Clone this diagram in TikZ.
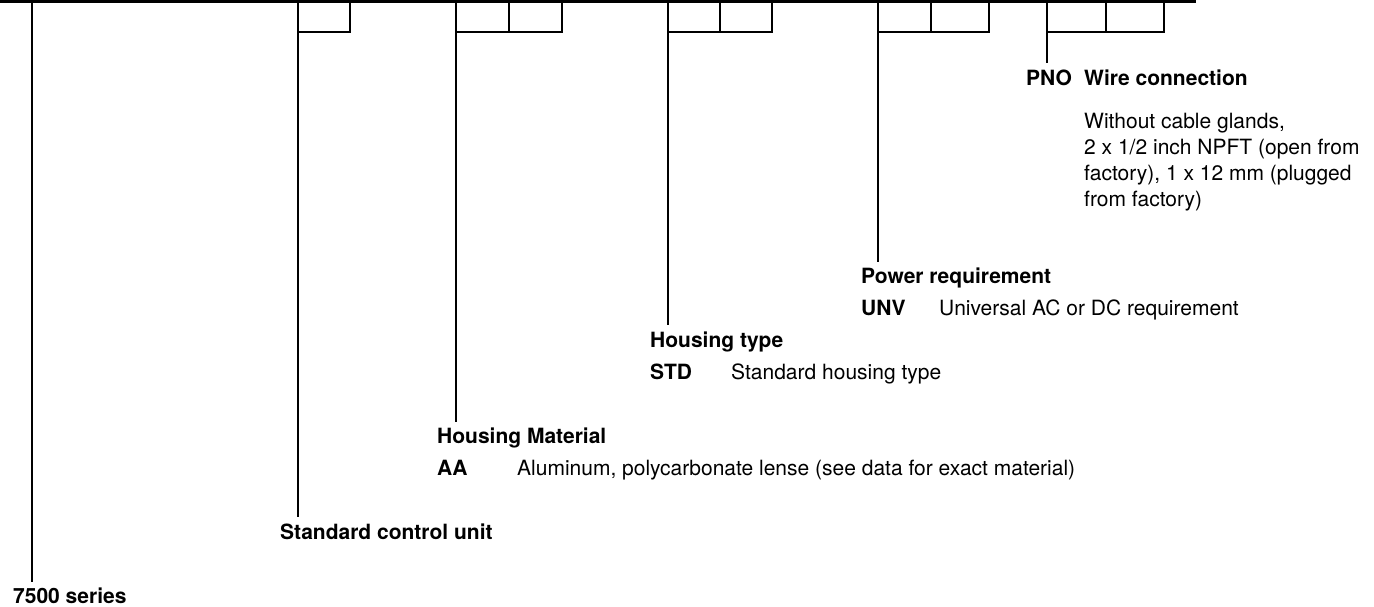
\documentclass[tikz,border=0pt]{standalone}
\usepackage{fontspec}
\setmainfont{TeX Gyre Heros}
\begin{document}
\begin{tikzpicture}[x=1pt,y=-1pt,
  ln/.style={line width=2pt},
  topln/.style={line width=3.2pt},
  head/.style={anchor=base west, inner sep=0pt, font=\fontsize{21}{26}\selectfont\bfseries},
  txt/.style={anchor=base west, inner sep=0pt, font=\fontsize{21}{26}\selectfont},
  para/.style={anchor=north west, inner sep=0pt, align=left, font=\fontsize{21}{26}\selectfont},
]
\useasboundingbox (0,0) rectangle (1374,607);
% top bar
\coordinate (L0) at (0,1.6);
\coordinate (R0) at (1196,1.6);
\draw[topln] (L0) -- (R0);

% code boxes
\draw[ln] (298,1.5) -- (298,32) -- (350,32) -- (350,1.5);
\draw[ln] (456,1.5) -- (456,32) -- (562,32) -- (562,1.5) (509,1.5) -- (509,32);
\draw[ln] (668,1.5) -- (668,32) -- (772,32) -- (772,1.5) (720,1.5) -- (720,32);
\draw[ln] (878,1.5) -- (878,32) -- (989,32) -- (989,1.5) (931,1.5) -- (931,32);
\draw[ln] (1047,1.5) -- (1047,32) -- (1164,32) -- (1164,1.5) (1106,1.5) -- (1106,32);

% leader coordinates
\coordinate (t1) at (32,1.5);   \coordinate (e1) at (32,582);
\coordinate (t2) at (298,32);   \coordinate (e2) at (298,517);
\coordinate (t3) at (456,32);   \coordinate (e3) at (456,422);
\coordinate (t4) at (668,32);   \coordinate (e4) at (668,325);
\coordinate (t5) at (878,32);   \coordinate (e5) at (878,262);
\coordinate (t6) at (1047,32);  \coordinate (e6) at (1047,63);

\draw[ln] (t1) -- (e1);
\draw[ln] (t2) -- (e2);
\draw[ln] (t3) -- (e3);
\draw[ln] (t4) -- (e4);
\draw[ln] (t5) -- (e5);
\draw[ln] (t6) -- (e6);

% labels
\node[head] (series) at (13,603) {7500 series};
\node[head] (unit) at (280,539) {Standard control unit};

\node[head] (mat) at (437,443) {Housing Material};
\node[head] (aa) at (437,475) {AA};
\node[txt] (aad) at (517,475) {Aluminum, polycarbonate lense (see data for exact material)};

\node[head] (htype) at (650,347) {Housing type};
\node[head] (std) at (650,379) {STD};
\node[txt] (stdd) at (731,379) {Standard housing type};

\node[head] (pow) at (861,283) {Power requirement};
\node[head] (unv) at (861,315) {UNV};
\node[txt] (unvd) at (939,315) {Universal AC or DC requirement};

\node[head] (pno) at (1026,86) {PNO};
\node[head] (wire) at (1084,86) {Wire connection};
\node[para] (wired) at (1084,113) {Without cable glands,\\2 x 1/2 inch NPFT (open from\\factory), 1 x 12 mm (plugged\\from factory)};
\end{tikzpicture}
\end{document}
